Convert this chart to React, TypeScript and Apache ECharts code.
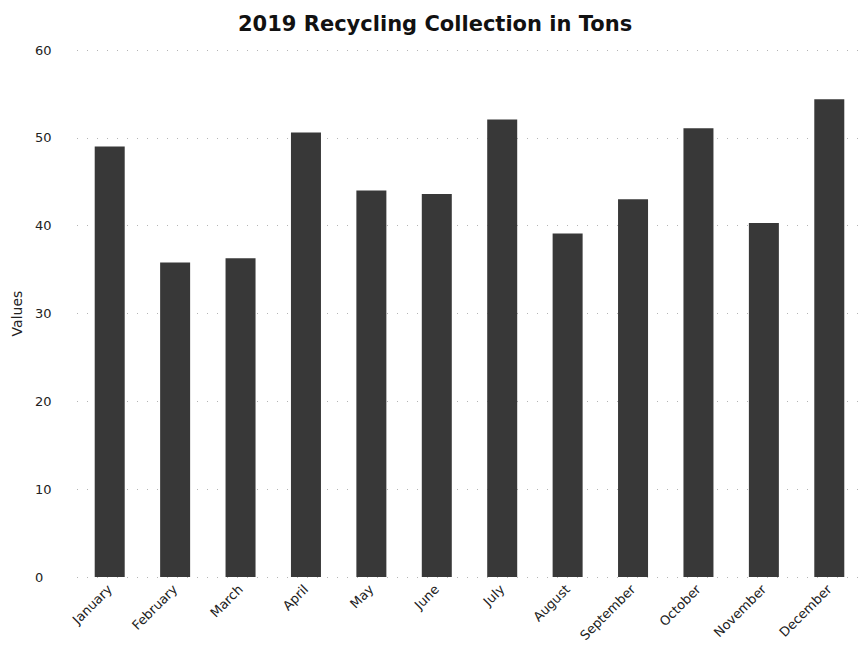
import React, { useEffect, useRef } from "react";
import * as echarts from "echarts";

const months = ["January", "February", "March", "April", "May", "June", "July", "August", "September", "October", "November", "December"];
const tons = [49, 35.8, 36.3, 50.6, 44.0, 43.6, 52.1, 39.1, 43.0, 51.1, 40.3, 54.4];
const titleText = "2019 Recycling Collection in Tons";
const yAxisName = "Values";

export default function App() {
  const ref = useRef<HTMLDivElement>(null);
  useEffect(() => {
    document.body.style.margin = "0";
    if (!ref.current) return;
    const chart = echarts.init(ref.current, null, { renderer: "svg" });
    chart.setOption({
      animation: false,
      backgroundColor: "#ffffff",
      textStyle: { fontFamily: "Open Sans" },
      title: {
        text: titleText,
        left: 233,
        top: 8,
        textStyle: { fontFamily: "DejaVu Sans", fontWeight: "bold", fontSize: 21, color: "#111" },
      },
      grid: { left: 77, width: 791, top: 50, bottom: 78, containLabel: false },
      xAxis: {
        type: "category",
        data: months,
        axisLine: { show: false },
        axisTick: { show: false },
        axisLabel: { rotate: 45, margin: 10, fontSize: 13, color: "#222", interval: 0, fontFamily: "DejaVu Sans" },
      },
      yAxis: {
        type: "value",
        min: 0,
        max: 60,
        interval: 10,
        name: yAxisName,
        nameLocation: "middle",
        nameGap: 50,
        nameTextStyle: { fontSize: 14, color: "#222", fontFamily: "DejaVu Sans" },
        axisLine: { show: false },
        axisTick: { show: false },
        axisLabel: { align: "left", margin: 42, fontSize: 13, color: "#222", fontFamily: "DejaVu Sans" },
        splitLine: { show: true, lineStyle: { type: [1, 9], color: "#b5b5b5", width: 1 } },
      },
      series: [
        {
          type: "bar",
          data: tons,
          barWidth: 30,
          itemStyle: { color: "#383838" },
        },
      ],
    });
    return () => chart.dispose();
  }, []);
  return <div ref={ref} style={{ width: 862, height: 655 }} />;
}
